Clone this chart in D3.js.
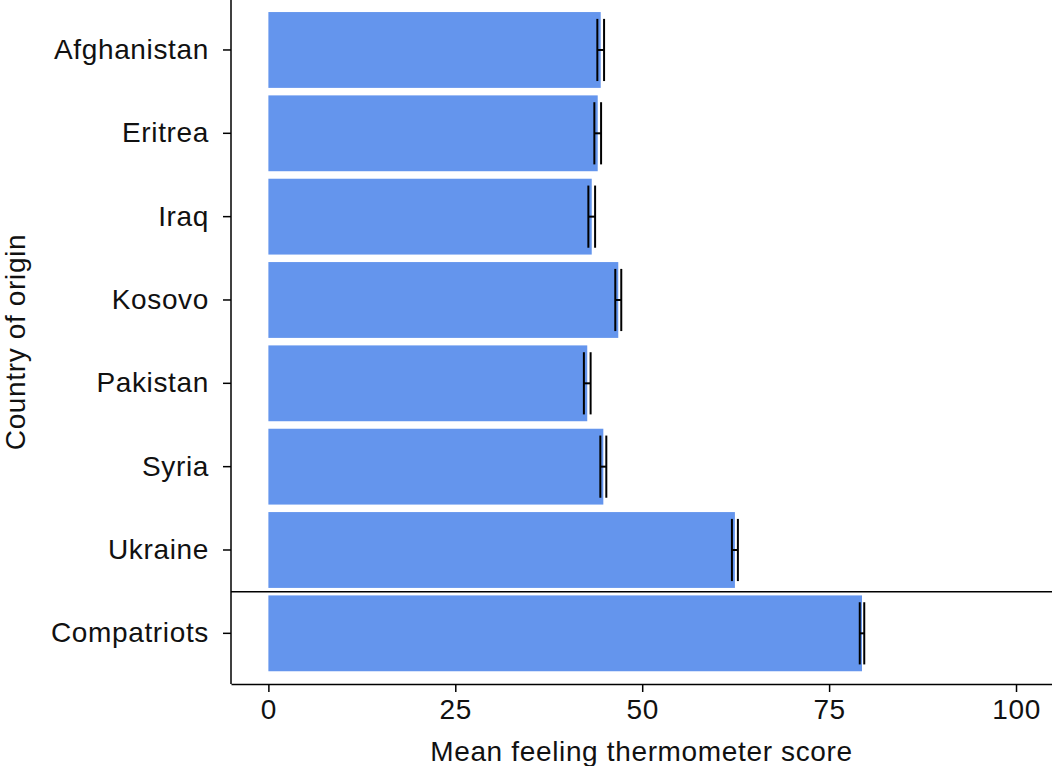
<!DOCTYPE html>
<html>
<head>
<meta charset="utf-8">
<script src="https://cdn.jsdelivr.net/npm/d3@7"></script>
<style>
html,body{margin:0;padding:0;background:#fff;}
svg{display:block;font-family:"Liberation Sans",Arial,Helvetica,sans-serif;}
svg text{letter-spacing:0.65px;}
</style>
</head>
<body>
<svg id="chart" width="1052" height="766"></svg>
<script>
const categories = ["Afghanistan","Eritrea","Iraq","Kosovo","Pakistan","Syria","Ukraine","Compatriots"];
const means = [44.45, 44.05, 43.25, 46.8, 42.65, 44.8, 62.4, 79.4];
const lower = [44.0, 43.6, 42.8, 46.4, 42.2, 44.4, 62.0, 79.1];
const upper = [44.9, 44.5, 43.7, 47.2, 43.1, 45.2, 62.8, 79.7];
const xTicks = [0, 25, 50, 75, 100];

(function(){
const svg = d3.select("#chart");
const mLeft = 231, mBottom = 684, mTop = 0;
const fs = 28;

const x = d3.scaleLinear().domain([-5, 105]).range([231, 1053.4]);
const y = d3.scaleBand().domain(categories).range([8.3, 675]).paddingInner(0.09).paddingOuter(0.045);

const color = "#6495ED";

// bars
svg.append("g").selectAll("rect").data(categories).join("rect")
  .attr("x", x(0))
  .attr("y", d => y(d))
  .attr("width", (d, i) => x(means[i]) - x(0))
  .attr("height", y.bandwidth())
  .attr("fill", color);

// error bars
const eb = svg.append("g").attr("stroke", "#000").attr("stroke-width", 2).attr("fill", "none");
categories.forEach((c, i) => {
  const cy = y(c) + y.bandwidth() / 2;
  const h = y.bandwidth() * 0.82 / 2;
  eb.append("line").attr("x1", x(lower[i])).attr("x2", x(lower[i])).attr("y1", cy - h).attr("y2", cy + h);
  eb.append("line").attr("x1", x(upper[i])).attr("x2", x(upper[i])).attr("y1", cy - h).attr("y2", cy + h);
  eb.append("line").attr("x1", x(lower[i])).attr("x2", x(upper[i])).attr("y1", cy).attr("y2", cy);
});

// separator between Ukraine and Compatriots
const sepY = (y("Ukraine") + y.bandwidth() + y("Compatriots")) / 2;
svg.append("line").attr("x1", mLeft).attr("x2", 1052).attr("y1", sepY).attr("y2", sepY)
  .attr("stroke", "#000").attr("stroke-width", 1.5);

// x axis
const xAxis = svg.append("g").attr("transform", `translate(0,${mBottom})`)
  .call(d3.axisBottom(x).tickValues(xTicks).tickSize(8).tickPadding(7).tickSizeOuter(0));
xAxis.select(".domain").attr("stroke-width", 1.5);
xAxis.selectAll(".tick line").attr("stroke-width", 1.5);
xAxis.selectAll(".tick text").attr("font-size", fs).attr("fill", "#111");

// y axis
const yAxis = svg.append("g").attr("transform", `translate(${mLeft},0)`)
  .call(d3.axisLeft(y).tickSize(8).tickPadding(14).tickSizeOuter(0));
yAxis.select(".domain").attr("d", `M0,${mTop}V${mBottom}`).attr("stroke-width", 1.5);
yAxis.selectAll(".tick line").attr("stroke-width", 1.5);
yAxis.selectAll(".tick text").attr("font-size", fs).attr("fill", "#111");

// titles
svg.append("text").attr("x", (mLeft + 1052) / 2).attr("y", 761)
  .attr("text-anchor", "middle").attr("font-size", fs).attr("fill", "#111")
  .text("Mean feeling thermometer score");
svg.append("text").attr("transform", `translate(25,${(mTop + mBottom) / 2}) rotate(-90)`)
  .attr("text-anchor", "middle").attr("font-size", fs).attr("fill", "#111")
  .text("Country of origin");
})();
</script>
</body>
</html>
